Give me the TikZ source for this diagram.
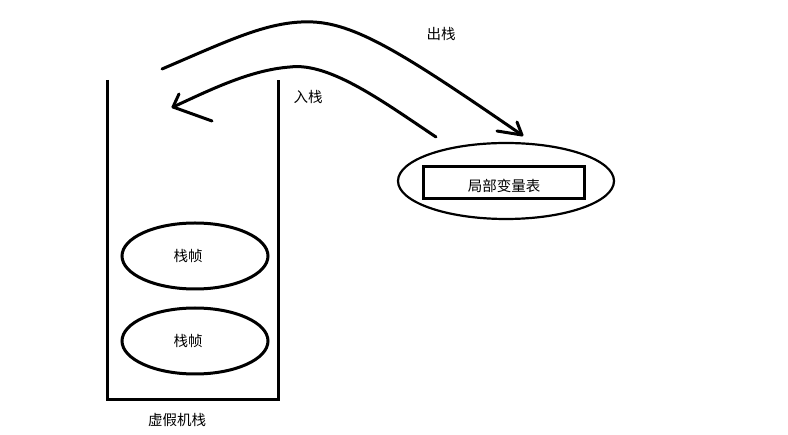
\documentclass[tikz,border=0pt]{standalone}
\usepackage{fontspec}
\setmainfont{Noto Sans CJK SC}
\usetikzlibrary{%
  calc
}
\usetikzlibrary{shapes.geometric}

\tikzset{
  frame/.style={draw,ellipse,line width=3pt,minimum width=146pt,minimum height=66pt},
  label/.style={font=\fontsize{14.5}{16}\selectfont,inner sep=0pt},
  stroke/.style={line width=3pt,line cap=round}
}

\begin{document}
\begin{tikzpicture}[x=1pt, y=-1pt]
    \useasboundingbox (0,0) rectangle (788,435);

    %Stack
    \draw[stroke, line cap=butt] (107,80) -- (107,400) -- (278,400) -- (278,80);
    \node[label] (vmstack) at (177,420) {虚假机栈};

    %Frames
    \node[frame] (frameA) at (195,256) {};
    \node[label] at (188,256) {栈帧};
    \node[frame] (frameB) at (195,341) {};
    \node[label] at (188,341) {栈帧};

    %Local variable table
    \node[draw,ellipse,line width=2.2pt,minimum width=216pt,minimum height=76pt] (local) at (506,181) {};
    \node[draw,line width=3pt,minimum width=161pt,minimum height=32pt] (table) at (504,183) {};
    \node[label] at (504,186) {局部变量表};

    %Arrows
    \coordinate (popA) at (162,69);
    \coordinate (popB) at (522,135);
    \coordinate (pushA) at (436,137);
    \coordinate (pushB) at (173,107);

    \draw[stroke] (popA) .. controls (230,40) and (270,20) .. (313,22)
                         .. controls (358,24) and (410,58) .. (popB);
    \draw[stroke] (popB) -- (497,131);
    \draw[stroke] (popB) -- (517,122);
    \node[label] (pop) at (441,34) {出栈};

    \draw[stroke] (pushA) .. controls (385,103) and (330,62) .. (290,67)
                          .. controls (250,70) and (210,90) .. (pushB);
    \draw[stroke] (pushB) -- (212,121);
    \draw[stroke] (pushB) -- (179,94);
    \node[label] (push) at (308,97) {入栈};

  \end{tikzpicture}
\end{document}
